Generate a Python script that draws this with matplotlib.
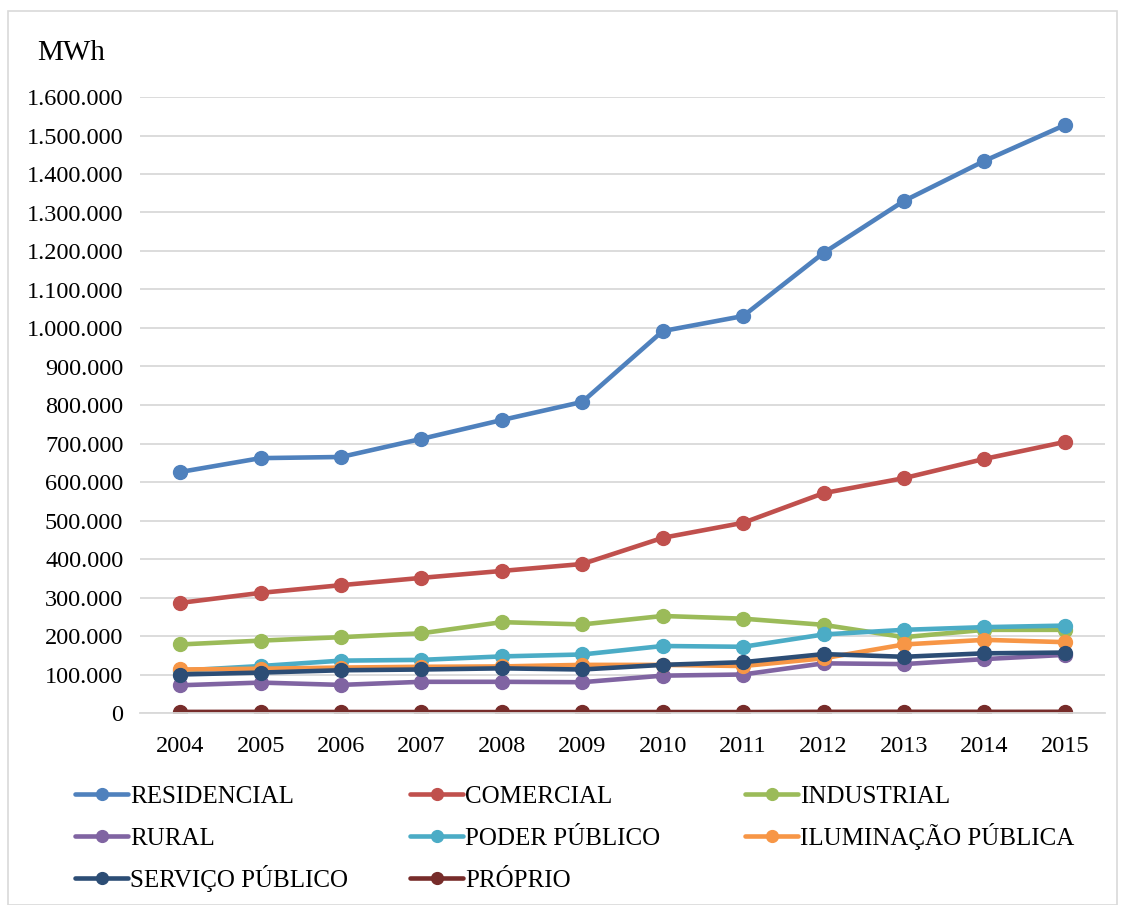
import matplotlib
matplotlib.use('Agg')
import matplotlib.pyplot as plt
from matplotlib.ticker import FuncFormatter
from matplotlib.patches import Rectangle
from matplotlib.lines import Line2D

plt.rcParams['font.family'] = ['Liberation Serif', 'DejaVu Serif']

anos = ['2004', '2005', '2006', '2007', '2008', '2009', '2010', '2011', '2012', '2013', '2014', '2015']

residencial = [626000, 662000, 665000, 712000, 761000, 808000, 992000, 1031000, 1195000, 1330000, 1434000, 1527000]
comercial = [286000, 312000, 332000, 351000, 369000, 387000, 455000, 494000, 571000, 610000, 660000, 704000]
industrial = [178000, 188000, 197000, 207000, 236000, 230000, 252000, 245000, 229000, 197000, 216000, 216000]
rural = [72000, 79000, 73000, 81000, 81000, 80000, 97000, 100000, 129000, 127000, 140000, 151000]
poder_publico = [110000, 122000, 136000, 138000, 147000, 152000, 174000, 172000, 204000, 216000, 223000, 227000]
iluminacao = [113000, 115000, 118000, 120000, 121000, 125000, 125000, 122000, 142000, 178000, 190000, 184000]
servico = [100000, 105000, 111000, 113000, 116000, 113000, 125000, 132000, 153000, 146000, 155000, 157000]
proprio = [2800, 2900, 2600, 2500, 2400, 2400, 2500, 2400, 3000, 3100, 3000, 3100]

series = [
    ('RESIDENCIAL', residencial, '#4F81BD'),
    ('COMERCIAL', comercial, '#C0504D'),
    ('INDUSTRIAL', industrial, '#9BBB59'),
    ('RURAL', rural, '#8064A2'),
    ('PODER PÚBLICO', poder_publico, '#4BACC6'),
    ('ILUMINAÇÃO PÚBLICA', iluminacao, '#F79646'),
    ('SERVIÇO PÚBLICO', servico, '#2C4D75'),
    ('PRÓPRIO', proprio, '#772C2A'),
]

W, H = 1121, 905
fig = plt.figure(figsize=(W / 100, H / 100), dpi=100)
ax = fig.add_axes([140 / W, 1 - 713 / H, (1105 - 140) / W, (713 - 97) / H])

x = list(range(len(anos)))
for nome, vals, cor in series:
    ax.plot(x, vals, color=cor, lw=3.3, marker='o', ms=10, label=nome,
            solid_capstyle='round')

ax.set_xlim(-0.5, len(anos) - 0.5)
ax.set_ylim(0, 1600000)
ax.set_yticks(range(0, 1600001, 100000))
ax.yaxis.set_major_formatter(FuncFormatter(lambda v, p: f"{int(v):,}".replace(",", ".")))
ax.set_xticks(x)
ax.set_xticklabels(anos)
ax.tick_params(axis='both', length=0, labelsize=17.5)
ax.tick_params(axis='y', pad=12)
ax.tick_params(axis='x', pad=16.5)
ax.grid(axis='y', color='#d9d9d9', lw=1.3)
ax.set_axisbelow(True)
for s in ['top', 'right', 'left']:
    ax.spines[s].set_visible(False)
ax.spines['bottom'].set_color('#d9d9d9')
ax.spines['bottom'].set_linewidth(1.3)

fig.text(37 / W, 1 - 53 / H, 'MWh', fontsize=21, va='center', ha='left')

# legenda feita a mao: 3 colunas, preenchida por linhas
col_x = [75, 410, 745]
row_y = [794, 836, 878]
for i, (nome, vals, cor) in enumerate(series):
    r, c = divmod(i, 3)
    x0, y0 = col_x[c], row_y[r]
    fig.add_artist(Line2D([x0 / W, (x0 + 53) / W], [1 - y0 / H] * 2,
                          transform=fig.transFigure, color=cor, lw=3.3,
                          solid_capstyle='round'))
    fig.add_artist(Line2D([(x0 + 26.5) / W], [1 - y0 / H],
                          transform=fig.transFigure, color=cor, marker='o', ms=8.5))
    fig.text((x0 + 55) / W, 1 - (y0 + 9) / H, nome, fontsize=18,
             va='baseline', ha='left')

fig.patches.append(Rectangle((8 / W, 0), (W - 12) / W, 1 - 11 / H,
                             transform=fig.transFigure, fill=False,
                             edgecolor='#d9d9d9', lw=1.2))

fig.savefig('out.png', dpi=100)
